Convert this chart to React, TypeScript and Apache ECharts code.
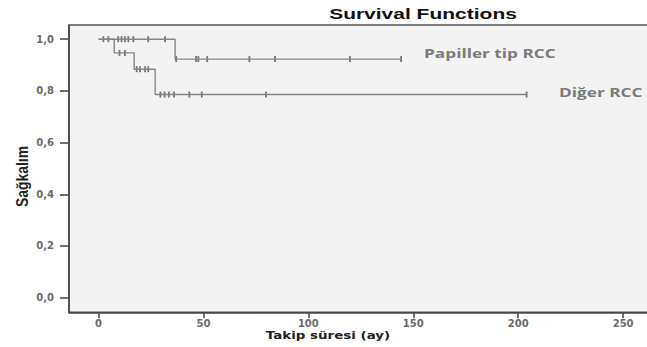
import React, { useEffect, useRef } from "react";
import * as echarts from "echarts";

// ---- data ----
const xTicks = [0, 50, 100, 150, 200, 250];
const yTicks = [0, 0.2, 0.4, 0.6, 0.8, 1.0];

// Kaplan-Meier steps: [time (ay), survival after event]
const papillerSteps: [number, number][] = [
  [0, 1],
  [36.5, 0.923],
  [144.2, 0.923],
];
const digerSteps: [number, number][] = [
  [0, 1],
  [7.5, 0.947],
  [17, 0.884],
  [27, 0.786],
  [204, 0.786],
];

// censored observation times
const papillerCensored = [2.3, 4.7, 9.4, 11, 12.6, 14.2, 16.6, 23.7, 31.7, 37, 46.5, 47.6, 51.8, 71.9, 84.1, 119.8, 144.2];
const digerCensored = [10, 12.6, 18.2, 19.8, 22.2, 23.7, 29.5, 31.5, 33.5, 36, 43.3, 49.2, 79.8, 204];

const seriesNames = ["Papiller tip RCC", "Diğer RCC"];

function survivalAt(steps: [number, number][], t: number): number {
  let s = steps[0][1];
  for (const [time, val] of steps) {
    if (time <= t) s = val;
  }
  return s;
}

export default function App() {
  const ref = useRef<HTMLDivElement>(null);

  useEffect(() => {
    if (!ref.current) return;
    const chart = echarts.init(ref.current, null, { renderer: "svg" });

    const lineColor = "#858585";
    const markColor = "#555";

    const option: any = {
      animation: false,
      backgroundColor: "#ffffff",
      grid: {
        left: 69,
        top: 25,
        right: -12,
        bottom: 34.7,
        show: true,
        backgroundColor: "#f3f3f3",
        borderColor: "#555",
        borderWidth: 1.5,
        containLabel: false,
        outerBoundsMode: "none",
      },
      xAxis: {
        type: "value",
        min: -14.06,
        max: 267.1,
        splitLine: { show: false },
        axisLine: { show: true, onZero: false, lineStyle: { color: "#444", width: 1.5 } },
        axisTick: { show: true, customValues: xTicks, length: 6, lineStyle: { color: "#444", width: 1.5 } },
        axisLabel: {
          customValues: xTicks,
          margin: 6,
          color: "#6a6a6a",
          fontFamily: "DejaVu Sans",
          fontWeight: "bold",
          fontSize: 10,
        },
      },
      yAxis: {
        type: "value",
        min: -0.0565,
        max: 1.0549,
        splitLine: { show: false },
        axisLine: { show: true, onZero: false, lineStyle: { color: "#444", width: 1.5 } },
        axisTick: { show: true, customValues: yTicks, length: 9, lineStyle: { color: "#444", width: 1.5 } },
        axisLabel: {
          customValues: yTicks,
          margin: 15,
          color: "#6a6a6a",
          fontFamily: "DejaVu Sans",
          fontWeight: "bold",
          fontSize: 10,
          formatter: (v: number) => v.toFixed(1).replace(".", ","),
        },
      },
      series: [
        {
          name: seriesNames[0],
          type: "line",
          step: "end",
          data: papillerSteps,
          symbol: "none",
          lineStyle: { color: lineColor, width: 1.4 },
          silent: true,
        },
        {
          name: seriesNames[1],
          type: "line",
          step: "end",
          data: digerSteps,
          symbol: "none",
          lineStyle: { color: lineColor, width: 1.4 },
          silent: true,
        },
        {
          name: seriesNames[0] + " censored",
          type: "scatter",
          data: papillerCensored.map((t) => [t, survivalAt(papillerSteps, t)]),
          symbol: "rect",
          symbolSize: [1.8, 6],
          itemStyle: { color: markColor },
          silent: true,
        },
        {
          name: seriesNames[1] + " censored",
          type: "scatter",
          data: digerCensored.map((t) => [t, survivalAt(digerSteps, t)]),
          symbol: "rect",
          symbolSize: [1.8, 6],
          itemStyle: { color: markColor },
          silent: true,
        },
      ],
      graphic: [
        {
          type: "text",
          x: 423,
          y: 14,
          scaleX: 1.4,
          style: {
            text: "Survival Functions",
            font: "bold 15px 'Liberation Sans', Arial, sans-serif",
            fill: "#111",
            textAlign: "center",
            textVerticalAlign: "middle",
            align: "center",
            verticalAlign: "middle",
          },
        },
        {
          type: "text",
          x: 328,
          y: 335,
          scaleX: 1.22,
          style: {
            text: "Takip süresi (ay)",
            font: "bold 11px 'DejaVu Sans', sans-serif",
            fill: "#222",
            textAlign: "center",
            textVerticalAlign: "middle",
            align: "center",
            verticalAlign: "middle",
          },
        },
        {
          type: "text",
          x: 22,
          y: 176.5,
          rotation: Math.PI / 2,
          scaleX: 0.82,
          style: {
            text: "Sağkalım",
            font: "bold 17px 'Liberation Sans', Arial, sans-serif",
            fill: "#222",
            textAlign: "center",
            textVerticalAlign: "middle",
            align: "center",
            verticalAlign: "middle",
          },
        },
        {
          type: "text",
          x: 424,
          y: 53,
          scaleX: 1.5,
          style: {
            text: seriesNames[0],
            font: "bold 11.5px 'Open Sans', sans-serif",
            fill: "#7a7a7a",
            textAlign: "left",
            textVerticalAlign: "middle",
            align: "left",
            verticalAlign: "middle",
          },
        },
        {
          type: "text",
          x: 559,
          y: 92,
          scaleX: 1.5,
          style: {
            text: seriesNames[1],
            font: "bold 11.5px 'Open Sans', sans-serif",
            fill: "#7a7a7a",
            textAlign: "left",
            textVerticalAlign: "middle",
            align: "left",
            verticalAlign: "middle",
          },
        },
      ],
    };

    chart.setOption(option);
    return () => chart.dispose();
  }, []);

  return <div ref={ref} style={{ width: 647, height: 347, position: "absolute", left: 0, top: 0 }} />;
}
